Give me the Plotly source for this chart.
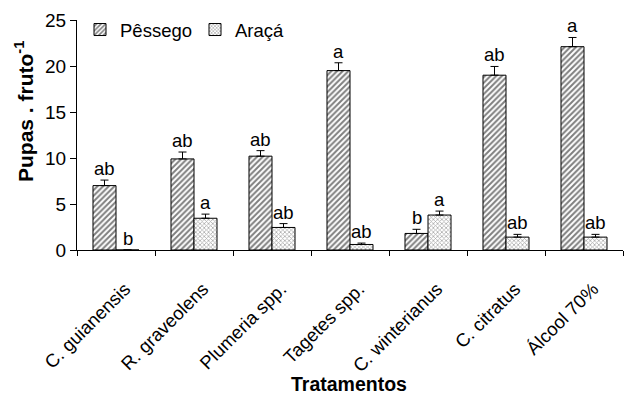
import plotly.graph_objects as go

categories = ["C. guianensis", "R. graveolens", "Plumeria spp.", "Tagetes spp.",
              "C. winterianus", "C. citratus", "Álcool 70%"]
pessego = [7.0, 9.9, 10.2, 19.5, 1.8, 19.0, 22.1]
pessego_err = [0.6, 0.75, 0.6, 0.85, 0.45, 0.95, 1.0]
pessego_letters = ["ab", "ab", "ab", "a", "b", "ab", "a"]
araca = [0.0, 3.45, 2.45, 0.6, 3.8, 1.4, 1.4]
araca_err = [0.0, 0.45, 0.42, 0.15, 0.43, 0.3, 0.3]
araca_letters = ["b", "a", "ab", "ab", "a", "ab", "ab"]

FONT = "Liberation Sans, Arial, sans-serif"
bargap = 0.41
bw = (1 - bargap) / 2

W, H = 628, 405
ML, MR, MT, MB = 77, 5, 20, 155
PW, PH = W - ML - MR, H - MT - MB

fig = go.Figure()
fig.add_trace(go.Bar(
    name="Pêssego", x=categories, y=pessego,
    marker=dict(color="white", line=dict(color="black", width=1),
                pattern=dict(shape="/", fgcolor="black", bgcolor="white", size=4, solidity=0.5)),
    error_y=dict(type="data", array=pessego_err, arrayminus=[0]*7, symmetric=False,
                 color="black", thickness=1, width=4),
))
fig.add_trace(go.Bar(
    name="Araçá", x=categories, y=araca,
    marker=dict(color="white", line=dict(color="black", width=1),
                pattern=dict(shape="x", fgcolor="#555555", bgcolor="white", size=3, solidity=0.45)),
    error_y=dict(type="data", array=araca_err, arrayminus=[0]*7, symmetric=False,
                 color="black", thickness=1, width=4),
))

for i in range(len(categories)):
    fig.add_annotation(x=i - bw / 2, y=pessego[i] + pessego_err[i], text=pessego_letters[i],
                       showarrow=False, yanchor="bottom", yshift=-1,
                       font=dict(family=FONT, size=18.5, color="black"))
    fig.add_annotation(x=i + bw / 2, y=araca[i] + araca_err[i], text=araca_letters[i],
                       showarrow=False, yanchor="bottom", yshift=-1,
                       font=dict(family=FONT, size=18.5, color="black"))

# axis titles
fig.add_annotation(xref="paper", yref="paper", x=(24 - ML) / PW, y=(MT + PH - 112) / PH,
                   text="<b>Pupas . fruto<sup>-1</sup></b>", textangle=-90, showarrow=False,
                   xanchor="center", yanchor="middle",
                   font=dict(family=FONT, size=21, color="black"))
fig.add_annotation(xref="paper", yref="paper", x=(349 - ML) / PW, y=(MT + PH - 384) / PH,
                   text="<b>Tratamentos</b>", showarrow=False,
                   xanchor="center", yanchor="middle",
                   font=dict(family=FONT, size=19.5, color="black"))

fig.update_layout(
    width=W, height=H,
    margin=dict(l=ML, r=MR, t=MT, b=MB, autoexpand=False),
    paper_bgcolor="white", plot_bgcolor="white",
    barmode="group", bargap=bargap, bargroupgap=0,
    font=dict(family=FONT, size=18, color="black"),
    showlegend=True,
    legend=dict(orientation="h", x=(80 - ML) / PW, y=(MT + PH - 30) / PH,
                xanchor="left", yanchor="middle",
                bgcolor="rgba(0,0,0,0)", font=dict(family=FONT, size=18.5),
                itemwidth=30, entrywidth=70, entrywidthmode="pixels", tracegroupgap=0),
    xaxis=dict(type="category", showline=True, linecolor="black", linewidth=1,
               ticks="outside", tickson="boundaries", ticklen=5, tickcolor="black",
               tickangle=-45, tickfont=dict(family=FONT, size=18.5),
               ticklabelstandoff=20, ticklabelshift=9, automargin=False,
               showgrid=False, zeroline=False),
    yaxis=dict(range=[0, 25], dtick=5, showline=True, linecolor="black", linewidth=1,
               ticks="outside", ticklen=6, tickcolor="black", showgrid=False, zeroline=False,
               tickfont=dict(family=FONT, size=19), automargin=False),
)

fig.write_html("out.html", post_script="document.body.style.margin='0';",
               config={"displayModeBar": False})
